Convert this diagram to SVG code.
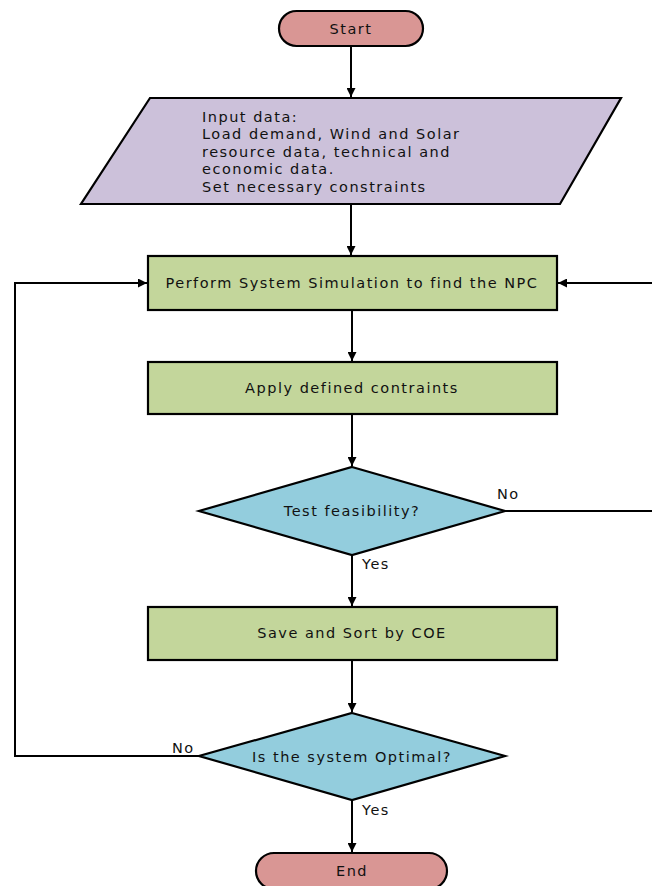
<svg xmlns="http://www.w3.org/2000/svg" width="652" height="886" viewBox="0 0 652 886">
<defs>
<marker id="arr" viewBox="0 0 10 10" refX="10" refY="5" markerWidth="9" markerHeight="9" markerUnits="userSpaceOnUse" orient="auto">
<path d="M0,0 L10,5 L0,10 z" fill="#000"/>
</marker>
<style>
.shape{stroke:#000;stroke-width:2.2}
.term{fill:#D99694}
.io{fill:#CCC1DA}
.proc{fill:#C3D69B}
.dec{fill:#93CDDD}
text{font-family:"DejaVu Sans","Open Sans",sans-serif;font-size:14.5px;letter-spacing:1.5px;fill:#111}
.c{text-anchor:middle;dominant-baseline:central}
.conn{fill:none;stroke:#000;stroke-width:2}
</style>
</defs>
<rect width="652" height="886" fill="#fff"/>
<g id="connectors">
<path class="conn" d="M351,46 V97" marker-end="url(#arr)"/>
<path class="conn" d="M351,204 V255" marker-end="url(#arr)"/>
<path class="conn" d="M352,310 V361" marker-end="url(#arr)"/>
<path class="conn" d="M352,414 V466" marker-end="url(#arr)"/>
<path class="conn" d="M352,555 V606" marker-end="url(#arr)"/>
<path class="conn" d="M352,660 V712" marker-end="url(#arr)"/>
<path class="conn" d="M352,800 V852" marker-end="url(#arr)"/>
<path class="conn" d="M505,511 H656 V283 H558" marker-end="url(#arr)"/>
<path class="conn" d="M199,756 H15 V283 H147" marker-end="url(#arr)"/>
<text x="497" y="499">No</text>
<text x="362" y="569">Yes</text>
<text x="172" y="753">No</text>
<text x="362" y="815">Yes</text>
</g>
<g id="start">
<rect class="shape term" x="279" y="11" width="144" height="35" rx="17.5"/>
<text class="c" x="351" y="29">Start</text>
</g>
<g id="input">
<polygon class="shape io" points="150,98 621,98 560,204 81,204"/>
<text x="202" y="122">Input data:</text>
<text x="202" y="139">Load demand, Wind and Solar</text>
<text x="202" y="157">resource data, technical and</text>
<text x="202" y="174">economic data.</text>
<text x="202" y="192">Set necessary constraints</text>
</g>
<g id="simulate">
<rect class="shape proc" x="148" y="256" width="409" height="54"/>
<text class="c" x="352" y="283">Perform System Simulation to find the NPC</text>
</g>
<g id="constraints">
<rect class="shape proc" x="148" y="362" width="409" height="52"/>
<text class="c" x="352" y="388">Apply defined contraints</text>
</g>
<g id="feasibility">
<polygon class="shape dec" points="352,467 505,511 352,555 199,511"/>
<text class="c" x="352" y="511">Test feasibility?</text>
</g>
<g id="save">
<rect class="shape proc" x="148" y="607" width="409" height="53"/>
<text class="c" x="352" y="633">Save and Sort by COE</text>
</g>
<g id="optimal">
<polygon class="shape dec" points="352,713 505,756 352,800 199,756"/>
<text class="c" x="352" y="757">Is the system Optimal?</text>
</g>
<g id="end">
<rect class="shape term" x="256" y="853" width="191" height="36" rx="18"/>
<text class="c" x="352" y="871">End</text>
</g>
</svg>
